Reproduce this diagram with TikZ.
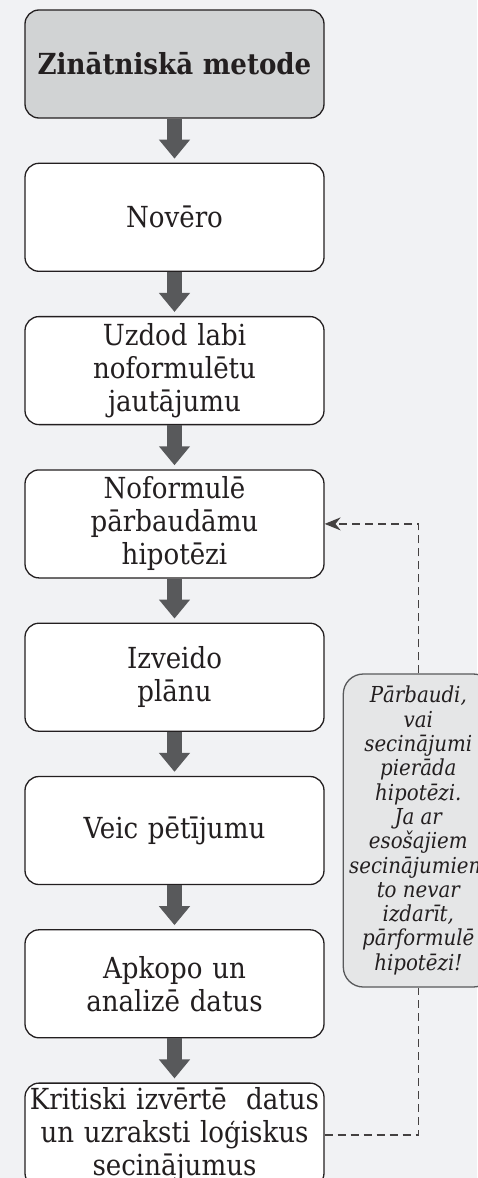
\documentclass[tikz,border=0pt]{standalone}
\usepackage{fontspec}
\setmainfont{DejaVu Serif Condensed}
\usetikzlibrary{positioning,arrows.meta}
\definecolor{pagegray}{HTML}{F1F2F4}
\definecolor{titlegray}{HTML}{D1D3D4}
\definecolor{notegray}{HTML}{E5E6E7}
\definecolor{arrowgray}{HTML}{58595B}
\definecolor{inkgray}{HTML}{231F20}
\tikzset{
    stage/.style = {
        draw = inkgray,
        line width = 0.65pt,
        rounded corners = 7pt,
        fill = white,
        text = inkgray,
        minimum width = 149.5pt,
        minimum height = 54pt,
        text width = 145pt,
        inner sep = 2pt,
        align = center,
        font = \fontsize{14.5}{16.5}\selectfont,
        },
    title stage/.style = {
        stage,
        fill = titlegray,
        font = \fontsize{14.5}{16.5}\selectfont\bfseries,
        },
    note/.style = {
        draw = arrowgray,
        line width = 0.65pt,
        rounded corners = 10pt,
        fill = notegray,
        text = inkgray,
        minimum width = 75pt,
        minimum height = 156.5pt,
        inner sep = 1pt,
        align = center,
        font = \fontsize{11}{12.15}\selectfont\itshape,
        },
    flow/.style = {
        draw = arrowgray,
        line width = 7.5pt,
        -{Triangle[width=15pt,length=9.5pt]},
        shorten >= 2pt,
        },
    feedback/.style = {
        draw = inkgray!85,
        line width = 0.65pt,
        dash pattern = on 4pt off 2.5pt,
        },
}

\begin{document}
\begin{tikzpicture}[node distance=22pt]
            \useasboundingbox (-87.25pt,32pt) rectangle (151.25pt,-557pt);
            \fill[pagegray] (-87.25pt,32pt) rectangle (151.25pt,-557pt);

            \node[title stage] (1) {Zinātniskā metode};
            \node[stage, below=of 1] (2) {Novēro};
            \node[stage, below=of 2] (3) {Uzdod labi\\ noformulētu\\ jautājumu};
            \node[stage, below=of 3] (4) {Noformulē\\ pārbaudāmu\\ hipotēzi};
            \node[stage, below=of 4] (5) {Izveido\\ plānu};
            \node[stage, below=of 5] (6) {Veic pētījumu};
            \node[stage, below=of 6] (7) {Apkopo un\\ analizē datus};
            \node[stage, below=of 7, minimum height=52pt, inner ysep=1pt] (8) {Kritiski izvērtē~ datus\\ un uzraksti loģiskus\\ secinājumus};
            \node[note, right=9pt of 6] (9) {Pārbaudi,\\ vai\\ secinājumi\\ pierāda\\ hipotēzi.\\ Ja ar\\ esošajiem\\ secinājumiem\\ to nevar\\ izdarīt,\\ pārformulē\\ hipotēzi!};

            \path (1) edge[flow] (2);
            \path (2) edge[flow] (3);
            \path (3) edge[flow] (4);
            \path (4) edge[flow] (5);
            \path (5) edge[flow] (6);
            \path (6) edge[flow] (7);
            \path (7) edge[flow] (8);
            \draw[feedback] (8.east) -| (9.south);
            \draw[feedback, -{Stealth[length=8pt,width=6.5pt]}] (9.north) |- (4.east);
        \end{tikzpicture}
\end{document}
